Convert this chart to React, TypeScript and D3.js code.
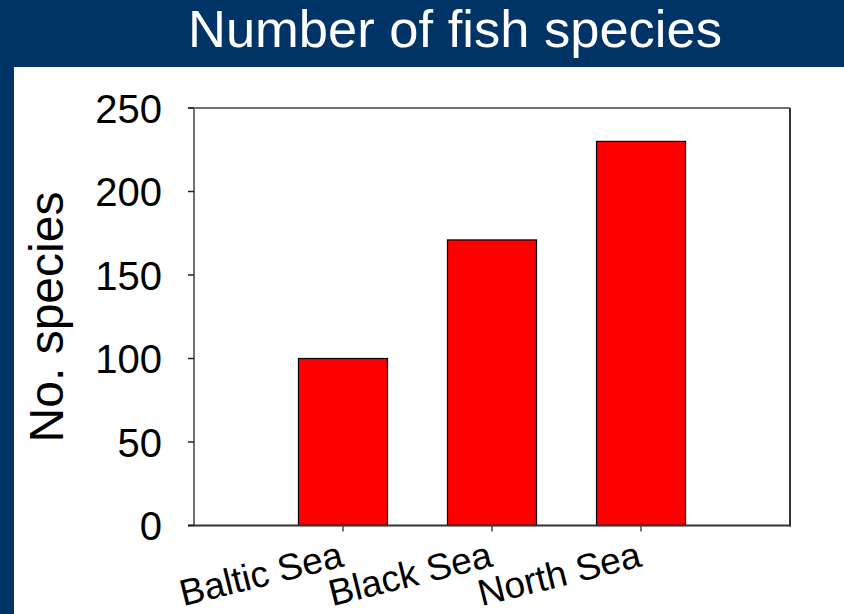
import React from "react";
import * as d3 from "d3";

// Species counts per sea
const categories = ["Baltic Sea", "Black Sea", "North Sea"];
const speciesCounts = [100, 171, 230];
const yTickValues = [0, 50, 100, 150, 200, 250];

const titleText = "Number of fish species";
const yAxisTitle = "No. species";

const W = 844;
const H = 614;
const FONT = "'Liberation Sans', Arial, Helvetica, sans-serif";

export default function App() {
  const plot = { left: 194, right: 790, top: 108, bottom: 525.5 };

  const x = d3
    .scaleBand<string>()
    .domain(categories)
    .range([plot.left, plot.right])
    .paddingInner(0.4027)
    .paddingOuter(0.701);

  const y = d3.scaleLinear().domain([0, 250]).range([plot.bottom, plot.top]);

  const frameDark = "#333333";
  const frameLight = "#707070";

  return (
    <svg
      width={W}
      height={H}
      viewBox={`0 0 ${W} ${H}`}
      style={{ position: "absolute", left: 0, top: 0, display: "block" }}
    >
      {/* page background with title band and left strip */}
      <rect x={0} y={0} width={W} height={H} fill="#ffffff" />
      <rect x={0} y={0} width={W} height={67} fill="#013466" />
      <rect x={0} y={0} width={14} height={H} fill="#013466" />
      <text
        x={455}
        y={47}
        textAnchor="middle"
        fill="#ffffff"
        fontFamily={FONT}
        fontSize={52.5}
      >
        {titleText}
      </text>

      {/* bars */}
      {categories.map((c, i) => (
        <rect
          key={c}
          x={x(c)!}
          y={y(speciesCounts[i])}
          width={x.bandwidth()}
          height={y(0) - y(speciesCounts[i])}
          fill="#ff0000"
          stroke="#000000"
          strokeWidth={1.2}
        />
      ))}

      {/* plot frame */}
      <line x1={plot.left - 6} x2={plot.right} y1={plot.top} y2={plot.top} stroke={frameLight} strokeWidth={2} />
      <line x1={plot.left} x2={plot.left} y1={plot.top} y2={plot.bottom} stroke={frameLight} strokeWidth={2} />
      <line x1={plot.right} x2={plot.right} y1={plot.top} y2={plot.bottom + 1} stroke={frameDark} strokeWidth={2} />
      <line x1={plot.left - 6} x2={plot.right + 1} y1={plot.bottom} y2={plot.bottom} stroke={frameDark} strokeWidth={2} />

      {/* y axis ticks and labels */}
      {yTickValues.map((v) => (
        <g key={v}>
          <line
            x1={plot.left - 6}
            x2={plot.left}
            y1={y(v)}
            y2={y(v)}
            stroke="#222222"
            strokeWidth={1.5}
          />
          <text
            x={162}
            y={y(v) + 14.5}
            textAnchor="end"
            fill="#000000"
            fontFamily={FONT}
            fontSize={40}
          >
            {v}
          </text>
        </g>
      ))}

      {/* y axis title */}
      <text
        transform={`translate(63, 317) rotate(-90)`}
        textAnchor="middle"
        fill="#000000"
        fontFamily={FONT}
        fontSize={48}
      >
        {yAxisTitle}
      </text>

      {/* x axis ticks and rotated category labels */}
      {categories.map((c) => {
        const cx = x(c)! + x.bandwidth() / 2;
        return (
          <g key={c}>
            <line
              x1={cx}
              x2={cx}
              y1={plot.bottom}
              y2={plot.bottom + 6}
              stroke="#444444"
              strokeWidth={1.5}
            />
            <text
              transform={`translate(${cx + 2}, 566) rotate(-14)`}
              textAnchor="end"
              fill="#000000"
              fontFamily={FONT}
              fontSize={37}
            >
              {c}
            </text>
          </g>
        );
      })}
    </svg>
  );
}
